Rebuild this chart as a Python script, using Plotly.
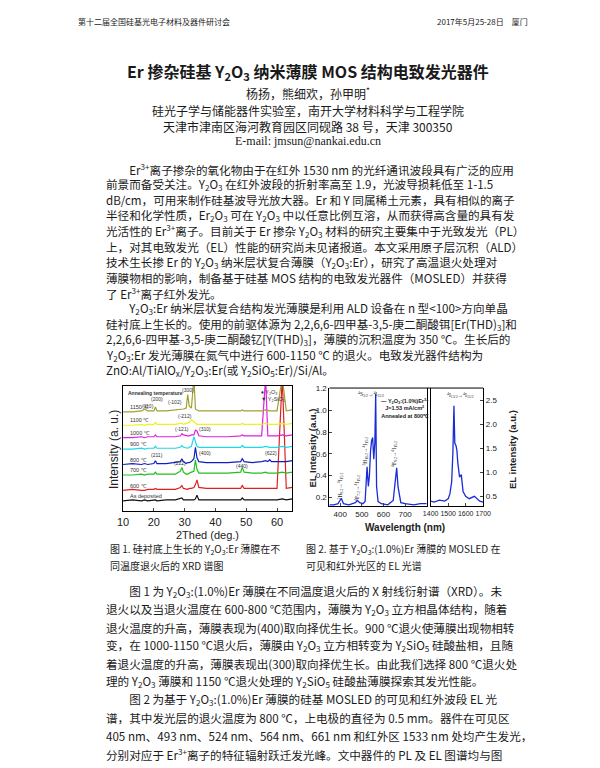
import plotly.graph_objects as go

W, H = 600, 768

# ---------- XRD data (2theta, curves offset) ----------
two_theta = [10, 13, 16, 17, 18, 20, 20.5, 21, 24, 27, 28.6, 29.1, 29.6, 30.5, 31.0, 31.5, 32.2,
             33.0, 33.5, 34.0, 34.6, 37, 40, 44, 48.2, 48.7, 49.3, 52, 55, 56.3, 57.0, 57.6, 58.2,
             60, 61.7, 63, 65]
xrd_labels = ['As deposited', '600 ℃', '700 ℃', '800 ℃', '900 ℃', '1000 ℃', '1100 ℃', '1150 ℃']
xrd_colors = ['#111111', '#e02020', '#20c020', '#1020c0', '#20d8e8', '#e020e0', '#f0f020', '#a0a030']
xrd_curves = [
    [11, 12, 11, 12, 11, 12, 12, 11, 12, 12, 13, 14, 12, 12, 12, 12, 12, 12, 13, 17, 12, 12, 12, 12, 12, 14, 12, 12, 12, 12, 12, 12, 12, 12, 13, 12, 13],
    [22, 23, 22, 22, 23, 23, 24, 23, 23, 23, 25, 27, 24, 23, 23, 24, 24, 25, 28, 33, 25, 24, 24, 24, 24, 27, 24, 24, 24, 24, 24, 24, 24, 24, 140, 24, 25],
    [38, 38, 39, 38, 39, 39, 41, 39, 39, 39, 42, 46, 41, 39, 39, 40, 41, 42, 54, 44, 40, 40, 40, 40, 41, 46, 41, 40, 40, 41, 40, 40, 40, 40, 41, 40, 41],
    [49, 50, 49, 50, 49, 50, 53, 50, 50, 51, 52, 55, 52, 50, 51, 51, 52, 55, 67, 56, 52, 51, 51, 51, 52, 55, 52, 51, 52, 53, 52, 54, 52, 52, 52, 52, 53],
    [65, 65, 66, 65, 66, 66, 68, 66, 66, 66, 67, 69, 67, 66, 66, 67, 68, 78, 72, 68, 67, 67, 67, 67, 67, 69, 67, 67, 67, 68, 67, 67, 67, 67, 68, 67, 68],
    [77, 77, 78, 77, 78, 78, 80, 78, 78, 78, 79, 81, 80, 79, 79, 79, 80, 80, 85, 84, 79, 78, 78, 78, 79, 80, 79, 79, 79, 140, 79, 79, 79, 79, 80, 79, 80],
    [90, 90, 91, 90, 91, 91, 93, 91, 91, 91, 92, 92, 91, 92, 92, 93, 96, 94, 92, 91, 91, 91, 91, 91, 91, 92, 91, 91, 91, 92, 91, 91, 91, 91, 92, 91, 92],
    [104, 104, 105, 107, 105, 105, 109, 105, 105, 106, 107, 107, 107, 108, 122, 110, 108, 140, 107, 106, 105, 105, 105, 105, 105, 106, 105, 105, 105, 106, 105, 105, 105, 105, 140, 105, 106],
]
xrd_ticks = [10, 20, 30, 40, 50, 60]

# ---------- EL data ----------
wl_vis = [350, 370, 390, 405, 415, 440, 470, 480, 490, 505, 515, 520, 524, 530, 535, 540, 545, 550,
          555, 560, 564, 568, 575, 590, 620, 645, 655, 661, 667, 680, 700, 740, 770, 800]
el_vis = [0.13, 0.13, 0.14, 0.19, 0.14, 0.13, 0.15, 0.17, 0.15, 0.14, 0.16, 0.35, 0.48, 0.30, 0.40,
          0.62, 0.72, 0.75, 0.55, 0.70, 1.15, 0.30, 0.16, 0.14, 0.13, 0.17, 0.35, 0.47, 0.30, 0.15,
          0.14, 0.13, 0.14, 0.14]
wl_ir = [1400, 1420, 1450, 1480, 1500, 1510, 1520, 1527, 1533, 1538, 1545, 1550, 1555, 1565, 1575,
         1585, 1600, 1620, 1650, 1680, 1700]
el_ir = [0.40, 0.38, 0.42, 0.40, 0.45, 0.55, 0.80, 1.40, 2.38, 1.60, 1.55, 1.45, 1.20, 0.90, 0.95,
         0.60, 0.50, 0.45, 0.50, 0.40, 0.38]

def px(x):
    return x / W

def py(y):
    return 1 - y / H

fig = go.Figure()
for lab, col, ys in zip(xrd_labels, xrd_colors, xrd_curves):
    fig.add_trace(go.Scatter(x=two_theta, y=ys, mode='lines', line=dict(color=col, width=1.2),
                             xaxis='x', yaxis='y', showlegend=False))
fig.add_trace(go.Scatter(x=wl_vis, y=el_vis, mode='lines', line=dict(color='#1a2bd8', width=1.3),
                         xaxis='x2', yaxis='y2', showlegend=False))
fig.add_trace(go.Scatter(x=wl_ir, y=el_ir, mode='lines', line=dict(color='#1a2bd8', width=1.3),
                         xaxis='x3', yaxis='y3', showlegend=False))

ax = dict(showline=True, linecolor='black', mirror=True, ticks='inside', ticklen=3, showgrid=False,
          zeroline=False, tickfont=dict(family='Arial', size=11, color='#222'))
small = dict(family='Arial', size=8, color='#222')
fig.update_layout(
    width=W, height=H, margin=dict(l=0, r=0, t=0, b=0),
    paper_bgcolor='white', plot_bgcolor='white',
    xaxis=dict(ax, domain=[px(110), px(284)], range=[10, 65], tickvals=xrd_ticks, anchor='y'),
    yaxis=dict(ax, domain=[py(502), py(376)], range=[0, 131], showticklabels=False, ticks='',
               anchor='x'),
    xaxis2=dict(ax, domain=[px(322), px(422)], range=[350, 800], tickvals=[400, 500, 600, 700],
                mirror=False, anchor='y2', tickfont=small),
    yaxis2=dict(ax, domain=[py(497), py(378)], range=[0.115, 1.205], anchor='x2',
                tickvals=[0.2, 0.4, 0.6, 0.8, 1.0, 1.2], tickformat='.1f', tickfont=small),
    xaxis3=dict(ax, domain=[px(426), px(480)], range=[1400, 1700], tickvals=[1400, 1500, 1600, 1700],
                mirror=False, anchor='y3', tickangle=0, tickfont=dict(family='Arial', size=7, color='#222')),
    yaxis3=dict(ax, domain=[py(497), py(378)], range=[0.29, 2.75], anchor='x3', side='right',
                tickvals=[0.5, 1.0, 1.5, 2.0, 2.5], tickformat='.1f', tickfont=small),
)
# top border of the broken EL frame
fig.add_shape(type='line', xref='paper', yref='paper', x0=px(322), x1=px(480), y0=py(378), y1=py(378),
              line=dict(color='black', width=1))

ann = []
def txt(x, y, s, size=14, anchor='left', font='Noto Sans CJK SC', color='#1a1a1a', angle=0):
    ann.append(dict(x=px(x), y=py(y), xref='paper', yref='paper', text=s, showarrow=False,
                    xanchor=anchor, yanchor='middle', textangle=angle,
                    font=dict(family=font, size=size, color=color)))

# header
txt(62, 10, '第十二届全国硅基光电子材料及器件研讨会', 8)
txt(528, 10, '2017年5月25-28日　厦门', 8, anchor='right')
# title block
txt(300, 60, '<b>Er 掺杂硅基 Y<sub>2</sub>O<sub>3</sub> 纳米薄膜 MOS 结构电致发光器件</b>', 16, 'center')
txt(300, 81, '杨扬，熊细欢，孙甲明<sup>*</sup>', 12, 'center')
txt(300, 99, '硅光子学与储能器件实验室，南开大学材料科学与工程学院', 12, 'center')
txt(300, 115, '天津市津南区海河教育园区同砚路 38 号，天津 300350', 12, 'center')
txt(300, 130, 'E-mail: jmsun@nankai.edu.cn', 12, 'center', 'Liberation Serif')

body1 = [
    '　　Er<sup>3+</sup>离子掺杂的氧化物由于在红外 1530 nm 的光纤通讯波段具有广泛的应用',
    '前景而备受关注。Y<sub>2</sub>O<sub>3</sub> 在红外波段的折射率高至 1.9，光波导损耗低至 1-1.5',
    'dB/cm，可用来制作硅基波导光放大器。Er 和 Y 同属稀土元素，具有相似的离子',
    '半径和化学性质，Er<sub>2</sub>O<sub>3</sub> 可在 Y<sub>2</sub>O<sub>3</sub> 中以任意比例互溶，从而获得高含量的具有发',
    '光活性的 Er<sup>3+</sup>离子。目前关于 Er 掺杂 Y<sub>2</sub>O<sub>3</sub> 材料的研究主要集中于光致发光（PL）',
    '上，对其电致发光（EL）性能的研究尚未见诸报道。本文采用原子层沉积（ALD）',
    '技术生长掺 Er 的 Y<sub>2</sub>O<sub>3</sub> 纳米层状复合薄膜（Y<sub>2</sub>O<sub>3</sub>:Er），研究了高温退火处理对',
    '薄膜物相的影响，制备基于硅基 MOS 结构的电致发光器件（MOSLED）并获得',
    '了 Er<sup>3+</sup>离子红外发光。',
    '　　Y<sub>2</sub>O<sub>3</sub>:Er 纳米层状复合结构发光薄膜是利用 ALD 设备在 n 型&lt;100&gt;方向单晶',
    '硅衬底上生长的。使用的前驱体源为 2,2,6,6-四甲基-3,5-庚二酮酸铒[Er(THD)<sub>3</sub>]和',
    '2,2,6,6-四甲基-3,5-庚二酮酸钇[Y(THD)<sub>3</sub>]，薄膜的沉积温度为 350 ℃。生长后的',
    'Y<sub>2</sub>O<sub>3</sub>:Er 发光薄膜在氮气中进行 600-1150 ℃ 的退火。电致发光器件结构为',
    'ZnO:Al/TiAlO<sub>x</sub>/Y<sub>2</sub>O<sub>3</sub>:Er(或 Y<sub>2</sub>SiO<sub>5</sub>:Er)/Si/Al。',
]
for i, s in enumerate(body1):
    txt(90, 158 + i * 15.6, s, 11.6)

txt(95, 540, '图 1. 硅衬底上生长的 Y<sub>2</sub>O<sub>3</sub>:Er 薄膜在不', 10)
txt(95, 556, '同温度退火后的 XRD 谱图', 10)
txt(296, 540, '图 2. 基于 Y<sub>2</sub>O<sub>3</sub>:(1.0%)Er 薄膜的 MOSLED 在', 10)
txt(296, 556, '可见和红外光区的 EL 光谱', 10)

body2 = [
    '　　图 1 为 Y<sub>2</sub>O<sub>3</sub>:(1.0%)Er 薄膜在不同温度退火后的 X 射线衍射谱（XRD）。未',
    '退火以及当退火温度在 600-800 ℃范围内，薄膜为 Y<sub>2</sub>O<sub>3</sub> 立方相晶体结构，随着',
    '退火温度的升高，薄膜表现为(400)取向择优生长。900 ℃退火使薄膜出现物相转',
    '变，在 1000-1150 ℃退火后，薄膜由 Y<sub>2</sub>O<sub>3</sub> 立方相转变为 Y<sub>2</sub>SiO<sub>5</sub> 硅酸盐相，且随',
    '着退火温度的升高，薄膜表现出(300)取向择优生长。由此我们选择 800 ℃退火处',
    '理的 Y<sub>2</sub>O<sub>3</sub> 薄膜和 1150 ℃退火处理的 Y<sub>2</sub>SiO<sub>5</sub> 硅酸盐薄膜探索其发光性能。',
    '　　图 2 为基于 Y<sub>2</sub>O<sub>3</sub>:(1.0%)Er 薄膜的硅基 MOSLED 的可见和红外波段 EL 光',
    '谱，其中发光层的退火温度为 800 ℃，上电极的直径为 0.5 mm。器件在可见区',
    '405 nm、493 nm、524 nm、564 nm、661 nm 和红外区 1533 nm 处均产生发光，',
    '分别对应于 Er<sup>3+</sup>离子的特征辐射跃迁发光峰。文中器件的 PL 及 EL 图谱均与图',
]
for i, s in enumerate(body2):
    txt(90, 583 + i * 18.1, s, 11.6)

# axis titles
txt(197, 526, '2Thed (deg.)', 11, 'center', 'Arial', '#222')
txt(100, 440, 'Intensity (a. u.)', 12, 'center', 'Arial', '#222', -90)
txt(400, 518, '<b>Wavelength (nm)</b>', 10, 'center', 'Arial', '#222')
txt(305, 438, '<b>EL Intensity (a.u.)</b>', 9.5, 'center', 'Arial', '#222', -90)
txt(510, 440, '<b>EL intensity (a.u.)</b>', 9.5, 'center', 'Arial', '#222', -90)

# XRD in-plot labels
for lab, ys in zip(xrd_labels, xrd_curves):
    ann.append(dict(x=11.5, y=ys[0] + 5, xref='x', yref='y', text=lab, showarrow=False,
                    xanchor='left', font=dict(family='Arial', size=5.5, color='#333')))
ann.append(dict(x=11, y=124, xref='x', yref='y', text='<b>Annealing temperature</b>', showarrow=False,
                xanchor='left', font=dict(family='Arial', size=5, color='#333')))
ann.append(dict(x=54, y=121, xref='x', yref='y', text='♦ Y<sub>2</sub>O<sub>3</sub><br>▼ Y<sub>2</sub>SiO<sub>5</sub>',
                showarrow=False, xanchor='left', align='left', font=dict(family='Arial', size=5.5, color='#333')))
for xx, yy, s in [(21, 117, '(200)'), (18, 110, '(110)'), (27, 114, '(-102)'), (31, 127, '(300)'),
                  (30, 100, '(-212)'), (29, 86, '(-121)'), (36.5, 86, '(310)'), (21, 59, '(211)'),
                  (36.5, 61, '(400)'), (28.6, 51, '(222)'), (48.7, 47, '(440)'), (58, 61, '(622)')]:
    ann.append(dict(x=xx, y=yy, xref='x', yref='y', text=s, showarrow=False,
                    font=dict(family='Arial', size=5, color='#333')))

# EL labels
ann.append(dict(x=700, y=1.02, xref='x2', yref='y2',
                text='<b>— Y<sub>2</sub>O<sub>3</sub>:(1.0%)Er<sup>3+</sup><br>J=1.53 mA/cm<sup>2</sup><br>Annealed at 800℃</b>',
                showarrow=False, align='center', font=dict(family='Arial', size=5.5, color='#222')))
for xx, yy, s, axx, axy in [(540, 1.15, '<sup>4</sup>S<sub>3/2</sub>→<sup>4</sup>I<sub>15/2</sub>', 'x2', 'y2'),
                            (1570, 2.6, '<sup>4</sup>I<sub>13/2</sub>→<sup>4</sup>I<sub>15/2</sub>', 'x3', 'y3')]:
    ann.append(dict(x=xx, y=yy, xref=axx, yref=axy, text=s, showarrow=False,
                    font=dict(family='Liberation Serif', size=5.5, color='#222')))
for xx, yy, s in [(400, 0.3, '<sup>2</sup>H<sub>9/2</sub>→<sup>4</sup>I<sub>15/2</sub>'),
                  (480, 0.28, '<sup>4</sup>F<sub>7/2</sub>→<sup>4</sup>I<sub>15/2</sub>'),
                  (515, 0.62, '<sup>2</sup>H<sub>11/2</sub>→<sup>4</sup>I<sub>15/2</sub>'),
                  (650, 0.6, '<sup>4</sup>F<sub>9/2</sub>→<sup>4</sup>I<sub>15/2</sub>')]:
    ann.append(dict(x=xx, y=yy, xref='x2', yref='y2', text=s, showarrow=False, textangle=-90,
                    font=dict(family='Liberation Serif', size=5.5, color='#222')))

fig.update_layout(annotations=ann)
fig.write_html('out.html')
